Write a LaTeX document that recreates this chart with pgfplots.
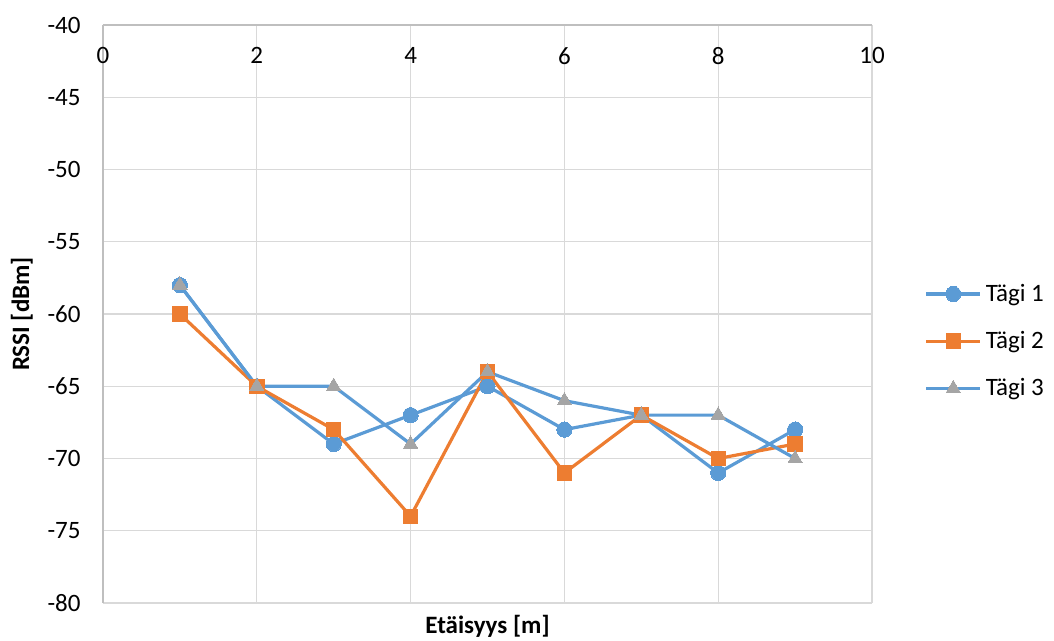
\documentclass[border=0pt]{standalone}
\usepackage{fontspec}
\setmainfont{Carlito}
\usepackage{pgfplots}
\pgfplotsset{compat=1.18}

\definecolor{tagblue}{HTML}{5B9BD5}
\definecolor{tagorange}{HTML}{ED7D31}
\definecolor{taggray}{HTML}{A5A5A5}
\definecolor{gridgray}{HTML}{D9D9D9}
\definecolor{axisgray}{HTML}{BFBFBF}

\begin{document}
\begin{tikzpicture}
\begin{axis}[
  scale only axis,
  width=384.5pt, height=289pt,
  xmin=0, xmax=10, ymin=-80, ymax=-40,
  xtick={0,2,4,6,8,10},
  ytick={-80,-75,-70,-65,-60,-55,-50,-45,-40},
  axis x line=top, axis y line=left,
  axis line style={-, draw=axisgray, line width=0.75pt},
  major tick length=0pt,
  grid=major,
  major grid style={draw=gridgray, line width=0.65pt},
  font=\fontsize{12.5}{14}\selectfont,
  /pgf/number format/assume math mode=true,
  xticklabel style={anchor=north, yshift=-7.7pt},
  yticklabel style={anchor=east, xshift=-7.7pt},
  xlabel={\bfseries Etäisyys [m]},
  ylabel={\bfseries RSSI [dBm]},
  xlabel style={at={(axis description cs:0.5,-0.0536)}, anchor=base},
  ylabel style={at={(axis description cs:-0.0962,0.5)}, anchor=base, rotate=0},
  legend cell align=left,
  legend style={at={(axis description cs:1.068,0.453)}, anchor=west,
    draw=none, fill=none, inner sep=0pt, row sep=9.5pt,
    font=\fontsize{12.5}{14}\selectfont},
  legend image code/.code={%
    \draw[mark repeat=2, mark phase=2, #1]
      plot coordinates {(0pt,0pt) (13.5pt,0pt) (27pt,0pt)};},
]
\addplot[tagblue, line width=1.6pt, mark=*, mark size=3.8pt,
  mark options={solid, fill=tagblue, draw=tagblue, line width=0pt}]
  coordinates {(1,-58) (2,-65) (3,-69) (4,-67) (5,-65) (6,-68) (7,-67) (8,-71) (9,-68)};
\addlegendentry{Tägi 1}
\addplot[tagorange, line width=1.6pt, mark=square*, mark size=3.6pt,
  mark options={solid, fill=tagorange, draw=tagorange, line width=0pt}]
  coordinates {(1,-60) (2,-65) (3,-68) (4,-74) (5,-64) (6,-71) (7,-67) (8,-70) (9,-69)};
\addlegendentry{Tägi 2}
\addplot[tagblue, line width=1.6pt, mark=triangle*, mark size=4.1pt,
  mark options={solid, fill=taggray, draw=taggray, line width=0pt}]
  coordinates {(1,-58) (2,-65) (3,-65) (4,-69) (5,-64) (6,-66) (7,-67) (8,-67) (9,-70)};
\addlegendentry{Tägi 3}
\coordinate (pa) at (rel axis cs:0,0);
\coordinate (pb) at (rel axis cs:1,1);
\end{axis}
\pgfresetboundingbox
\useasboundingbox ([shift={(-51.5pt,-19pt)}]pa) rectangle ([shift={(91pt,12.5pt)}]pb);
\end{tikzpicture}
\end{document}
